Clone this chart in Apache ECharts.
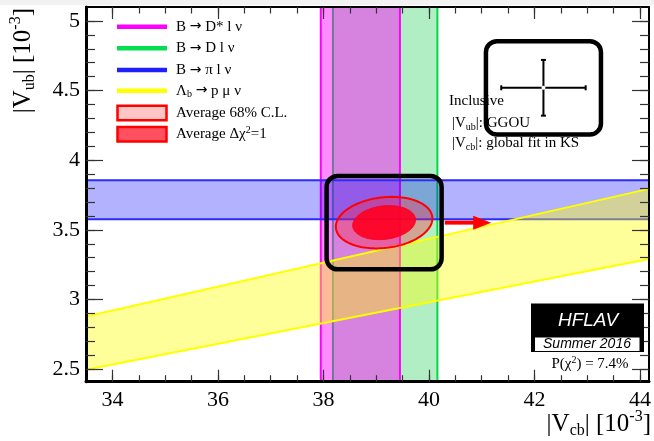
<!DOCTYPE html>
<html>
<head>
<meta charset="utf-8">
<script src="https://cdn.jsdelivr.net/npm/echarts@6/dist/echarts.min.js"></script>
<style>
  html, body { margin: 0; padding: 0; background: #fff; }
  #chart { width: 654px; height: 441px; }
</style>
</head>
<body>
<div id="chart"></div>
<script>
// |Vcb| and |Vub| in units of 10^-3
const vcbRange = [33.5, 44.17];
const vubRange = [2.41, 5.1];
const vcbMajorTicks = [34, 36, 38, 40, 42, 44];
const vcbMinorTicks = [34, 34.5, 35, 35.5, 36, 36.5, 37, 37.5, 38, 38.5, 39, 39.5,
                       40, 40.5, 41, 41.5, 42, 42.5, 43, 43.5, 44];
const vubMajorTicks = [2.5, 3, 3.5, 4, 4.5, 5];
const vubMinorTicks = [2.5, 2.6, 2.7, 2.8, 2.9, 3, 3.1, 3.2, 3.3, 3.4, 3.5, 3.6, 3.7, 3.8,
                       3.9, 4, 4.1, 4.2, 4.3, 4.4, 4.5, 4.6, 4.7, 4.8, 4.9, 5];

// Exclusive determinations (1 sigma bands)
const dstarVcb = [37.95, 39.45];      // B -> D* l nu
const dVcb = [38.18, 40.16];          // B -> D l nu
const piVub = [3.577, 3.857];         // B -> pi l nu
const lambdaRatio = [0.0745, 0.0859]; // Lambda_b -> p mu nu : |Vub|/|Vcb|

// Average of the exclusive results
const avgCenter = [39.15, 3.552];
const avg68Err = [0.915, 0.185];      // 68% C.L. contour half extents
const avgChi1Err = [0.595, 0.122];    // delta chi2 = 1 contour half extents
const avgCorr = 0.16;
const arrowVcb = [40.30, 41.18];

// Inclusive determination
const inclCenter = [42.17, 4.52];
const inclErr = [0.80, 0.20];

const serif = "'Liberation Serif', 'Times New Roman', serif";
const sans = "'Liberation Sans', Arial, sans-serif";

function richSet(size) {
  const s = Math.round(size * 0.68);
  return {
    n: { fontSize: size, fontFamily: serif, color: '#000', lineHeight: Math.round(size * 1.2) },
    a: { fontSize: Math.round(size * 0.95), fontFamily: "'DejaVu Sans', sans-serif", color: '#000', lineHeight: Math.round(size * 1.2) },
    s: { fontSize: s, fontFamily: serif, color: '#000', lineHeight: 4, verticalAlign: 'bottom' },
    p: { fontSize: s, fontFamily: serif, color: '#000', lineHeight: Math.round(s * 0.8), verticalAlign: 'top' }
  };
}

function rectShape(p1, p2) {
  return {
    x: Math.min(p1[0], p2[0]), y: Math.min(p1[1], p2[1]),
    width: Math.abs(p2[0] - p1[0]), height: Math.abs(p2[1] - p1[1])
  };
}

function verticalBand(name, band, fill, stroke, z) {
  return {
    name, type: 'custom', z, silent: true, data: [band],
    renderItem(params, api) {
      const a = api.coord([api.value(0), vubRange[1]]);
      const b = api.coord([api.value(1), vubRange[0]]);
      return {
        type: 'group', children: [
          { type: 'rect', shape: rectShape(a, b), style: { fill } },
          { type: 'line', shape: { x1: a[0], y1: a[1], x2: a[0], y2: b[1] }, style: { stroke, lineWidth: 2 } },
          { type: 'line', shape: { x1: b[0], y1: a[1], x2: b[0], y2: b[1] }, style: { stroke, lineWidth: 2 } }
        ]
      };
    }
  };
}

function horizontalBand(name, band, fill, stroke, z) {
  return {
    name, type: 'custom', z, silent: true, data: [band],
    renderItem(params, api) {
      const a = api.coord([vcbRange[0], api.value(1)]);
      const b = api.coord([vcbRange[1], api.value(0)]);
      return {
        type: 'group', children: [
          { type: 'rect', shape: rectShape(a, b), style: { fill } },
          { type: 'line', shape: { x1: a[0], y1: a[1], x2: b[0], y2: a[1] }, style: { stroke, lineWidth: 2 } },
          { type: 'line', shape: { x1: a[0], y1: b[1], x2: b[0], y2: b[1] }, style: { stroke, lineWidth: 2 } }
        ]
      };
    }
  };
}

function ratioBand(name, band, fill, stroke, z) {
  return {
    name, type: 'custom', z, silent: true, data: [band],
    renderItem(params, api) {
      const lo = api.value(0), hi = api.value(1);
      const x0 = vcbRange[0], x1 = vcbRange[1];
      const p1 = api.coord([x0, lo * x0]), p2 = api.coord([x1, lo * x1]);
      const p3 = api.coord([x1, hi * x1]), p4 = api.coord([x0, hi * x0]);
      return {
        type: 'group', children: [
          { type: 'polygon', shape: { points: [p1, p2, p3, p4] }, style: { fill } },
          { type: 'line', shape: { x1: p1[0], y1: p1[1], x2: p2[0], y2: p2[1] }, style: { stroke, lineWidth: 2 } },
          { type: 'line', shape: { x1: p4[0], y1: p4[1], x2: p3[0], y2: p3[1] }, style: { stroke, lineWidth: 2 } }
        ]
      };
    }
  };
}

function contour(name, err, fill, stroke, lineWidth, z) {
  return {
    name, type: 'custom', z, silent: true,
    data: [[avgCenter[0], avgCenter[1], err[0], err[1], avgCorr]],
    renderItem(params, api) {
      const cx = api.value(0), cy = api.value(1), sx = api.value(2), sy = api.value(3), rho = api.value(4);
      const pts = [];
      const k = Math.sqrt(1 - rho * rho);
      for (let i = 0; i < 120; i++) {
        const t = (i / 120) * Math.PI * 2;
        pts.push(api.coord([cx + sx * Math.cos(t), cy + sy * (rho * Math.cos(t) + k * Math.sin(t))]));
      }
      return { type: 'polygon', shape: { points: pts }, style: { fill, stroke, lineWidth } };
    }
  };
}

// rounded frame drawn around a point (same size around inclusive and average)
function roundedFrame(name, center, z) {
  return {
    name, type: 'custom', z, silent: true, data: [center],
    renderItem(params, api) {
      const cx = api.value(0), cy = api.value(1);
      const a = api.coord([cx - 1.09, cy + 0.335]);
      const b = api.coord([cx + 1.09, cy - 0.335]);
      return {
        type: 'rect', shape: Object.assign(rectShape(a, b), { r: 11 }),
        style: { fill: 'none', stroke: '#000', lineWidth: 4.5 }
      };
    }
  };
}

const series = [
  verticalBand('B→Dlν', dVcb, 'rgba(0,200,60,0.30)', '#00d848', 2),
  verticalBand('B→D*lν', dstarVcb, 'rgba(255,0,255,0.45)', '#ff00ff', 3),
  horizontalBand('B→πlν', piVub, 'rgba(0,0,255,0.30)', '#2a2aff', 4),
  ratioBand('Λb→pμν', lambdaRatio, 'rgba(255,255,0,0.40)', '#ffff00', 5),
  contour('Average 68% C.L.', avg68Err, 'rgba(255,40,60,0.36)', '#ff0000', 2, 6),
  contour('Average Δχ2=1', avgChi1Err, 'rgba(255,0,35,0.92)', '#ff0020', 1, 7),
  {
    name: 'shift', type: 'custom', z: 8, silent: true,
    data: [[arrowVcb[0], arrowVcb[1], avgCenter[1]]],
    renderItem(params, api) {
      const a = api.coord([api.value(0), api.value(2)]);
      const b = api.coord([api.value(1), api.value(2)]);
      const head = 18, half = 7;
      return {
        type: 'group', children: [
          { type: 'line', shape: { x1: a[0], y1: a[1], x2: b[0] - head + 1, y2: b[1] }, style: { stroke: '#ff0000', lineWidth: 4 } },
          { type: 'polygon', shape: { points: [[b[0], b[1]], [b[0] - head, b[1] - half], [b[0] - head, b[1] + half]] }, style: { fill: '#ff0000' } }
        ]
      };
    }
  },
  roundedFrame('inclusive frame', inclCenter, 12),
  roundedFrame('average frame', avgCenter, 12),
  {
    name: 'Inclusive', type: 'custom', z: 13, silent: true,
    data: [[inclCenter[0], inclCenter[1], inclErr[0], inclErr[1]]],
    renderItem(params, api) {
      const cx = api.value(0), cy = api.value(1), ex = api.value(2), ey = api.value(3);
      const l = api.coord([cx - ex, cy]), r = api.coord([cx + ex, cy]);
      const t = api.coord([cx, cy + ey]), b = api.coord([cx, cy - ey]);
      const c = api.coord([cx, cy]);
      const st = { stroke: '#000', lineWidth: 2 };
      const cap = 2.5;
      return {
        type: 'group', children: [
          { type: 'line', shape: { x1: l[0], y1: l[1], x2: r[0], y2: r[1] }, style: st },
          { type: 'line', shape: { x1: t[0], y1: t[1], x2: b[0], y2: b[1] }, style: st },
          { type: 'line', shape: { x1: l[0], y1: l[1] - cap, x2: l[0], y2: l[1] + cap }, style: st },
          { type: 'line', shape: { x1: r[0], y1: r[1] - cap, x2: r[0], y2: r[1] + cap }, style: st },
          { type: 'line', shape: { x1: t[0] - cap, y1: t[1], x2: t[0] + cap, y2: t[1] }, style: st },
          { type: 'line', shape: { x1: b[0] - cap, y1: b[1], x2: b[0] + cap, y2: b[1] }, style: st },
          { type: 'circle', shape: { cx: c[0], cy: c[1], r: 2 }, style: { fill: '#fff' } }
        ]
      };
    }
  }
];

const tickStyle = { color: '#333', width: 1.2 };

function xAxisDef(position, ticks, len, lineW, labels) {
  return {
    type: 'value', min: vcbRange[0], max: vcbRange[1], position, z: 20,
    axisLine: { show: lineW > 0, onZero: false, lineStyle: { color: '#000', width: lineW } },
    axisTick: { show: true, inside: true, length: len, customValues: ticks, lineStyle: tickStyle },
    axisLabel: labels ? {
      show: true, customValues: ticks, color: '#000', fontFamily: serif, fontSize: 22, margin: 8
    } : { show: false },
    splitLine: { show: false }
  };
}

function yAxisDef(position, ticks, len, lineW, labels) {
  return {
    type: 'value', min: vubRange[0], max: vubRange[1], position, z: 20,
    axisLine: { show: lineW > 0, onZero: false, lineStyle: { color: '#000', width: lineW } },
    axisTick: { show: true, inside: true, length: len, customValues: ticks, lineStyle: tickStyle },
    axisLabel: labels ? {
      show: true, customValues: ticks, color: '#000', fontFamily: serif, fontSize: 22, margin: 6
    } : { show: false },
    splitLine: { show: false }
  };
}

// legend rows
const legendLines = [
  { color: '#ff00ff', label: '{n|B }{a|→}{n| D* l ν}' },
  { color: '#00e050', label: '{n|B }{a|→}{n| D l ν}' },
  { color: '#2020ff', label: '{n|B }{a|→}{n| π l ν}' },
  { color: '#ffff00', label: '{n|Λ}{s|b}{n| }{a|→}{n| p μ ν}' }
];
const legendBoxes = [
  { fill: '#ffc4c4', label: '{n|Average 68% C.L.}' },
  { fill: '#ff5060', label: '{n|Average Δχ}{p|2}{n|=1}' }
];

const graphic = [
  { type: 'rect', left: 0, top: 0, shape: { width: 654, height: 5 }, style: { fill: '#f2f2f2' }, z: 0, silent: true }
];
const rowY = [26.7, 48.3, 70, 90.7, 112.7, 134];
legendLines.forEach((it, i) => {
  graphic.push({ type: 'rect', x: 117, y: rowY[i] - 2.3, shape: { width: 50, height: 4.6 }, style: { fill: it.color }, z: 30, silent: true });
  graphic.push({ type: 'text', x: 176, y: rowY[i], style: { text: it.label, rich: richSet(15), align: 'left', verticalAlign: 'middle' }, z: 30, silent: true });
});
legendBoxes.forEach((it, j) => {
  const i = j + 4;
  graphic.push({ type: 'rect', x: 117.5, y: rowY[i] - 7, shape: { width: 49, height: 14.5 }, style: { fill: it.fill, stroke: '#ff0000', lineWidth: 2.5 }, z: 30, silent: true });
  graphic.push({ type: 'text', x: 176, y: rowY[i], style: { text: it.label, rich: richSet(15), align: 'left', verticalAlign: 'middle' }, z: 30, silent: true });
});

// inclusive annotation
graphic.push(
  { type: 'text', x: 449, y: 101, style: { text: '{n|Inclusive}', rich: richSet(15), align: 'left', verticalAlign: 'middle' }, z: 5, silent: true },
  { type: 'text', x: 452, y: 123.5, style: { text: '{n||V}{s|ub}{n||: GGOU}', rich: richSet(15), align: 'left', verticalAlign: 'middle' }, z: 5, silent: true },
  { type: 'text', x: 452, y: 143.5, style: { text: '{n||V}{s|cb}{n||: global fit in KS}', rich: richSet(15), align: 'left', verticalAlign: 'middle' }, z: 5, silent: true }
);

// HFLAV label
graphic.push(
  { type: 'rect', x: 531, y: 303.5, shape: { width: 113, height: 48.5 }, style: { fill: '#000' }, z: 30, silent: true },
  { type: 'rect', x: 534.5, y: 337, shape: { width: 105.5, height: 14.5 }, style: { fill: '#fff', stroke: '#000', lineWidth: 1 }, z: 31, silent: true },
  { type: 'text', x: 588, y: 321, style: { text: 'HFLAV', fill: '#fff', fontFamily: sans, fontSize: 19, fontStyle: 'italic', align: 'center', verticalAlign: 'middle' }, z: 32, silent: true },
  { type: 'text', x: 587, y: 344.5, style: { text: 'Summer 2016', fill: '#000', fontFamily: sans, fontSize: 14, fontStyle: 'italic', align: 'center', verticalAlign: 'middle' }, z: 32, silent: true },
  { type: 'text', x: 590, y: 364.5, style: { text: '{n|P(χ}{p|2}{n|) = 7.4%}', rich: richSet(15), align: 'center', verticalAlign: 'middle' }, z: 32, silent: true }
);

// axis titles
const titleRich = {
  n: { fontSize: 25, fontFamily: serif, color: '#000', lineHeight: 30 },
  s: { fontSize: 16, fontFamily: serif, color: '#000', lineHeight: 6, verticalAlign: 'bottom' },
  p: { fontSize: 16, fontFamily: serif, color: '#000', lineHeight: 12, verticalAlign: 'top' }
};
graphic.push(
  { type: 'text', x: 651, y: 424, style: { text: '{n||V}{s|cb}{n|| [10}{p|-3}{n|]}', rich: titleRich, align: 'right', verticalAlign: 'middle' }, z: 30, silent: true },
  { type: 'text', x: 23, y: 8, rotation: Math.PI / 2, style: { text: '{n||V}{s|ub}{n|| [10}{p|-3}{n|]}', rich: titleRich, align: 'right', verticalAlign: 'middle' }, z: 30, silent: true }
);

const chart = echarts.init(document.getElementById('chart'), null, { renderer: 'canvas' });
chart.setOption({
  animation: false,
  backgroundColor: '#fff',
  grid: { left: 86, top: 7, width: 565.5, height: 374.7, containLabel: false },
  xAxis: [
    xAxisDef('bottom', vcbMajorTicks, 12, 3, true),
    xAxisDef('bottom', vcbMinorTicks, 6.5, 0, false),
    xAxisDef('top', vcbMajorTicks, 12, 2, false),
    xAxisDef('top', vcbMinorTicks, 6.5, 0, false)
  ],
  yAxis: [
    yAxisDef('left', vubMajorTicks, 17, 3, true),
    yAxisDef('left', vubMinorTicks, 9, 0, false),
    yAxisDef('right', vubMajorTicks, 17, 2, false),
    yAxisDef('right', vubMinorTicks, 9, 0, false)
  ],
  series,
  graphic
});
</script>
</body>
</html>
